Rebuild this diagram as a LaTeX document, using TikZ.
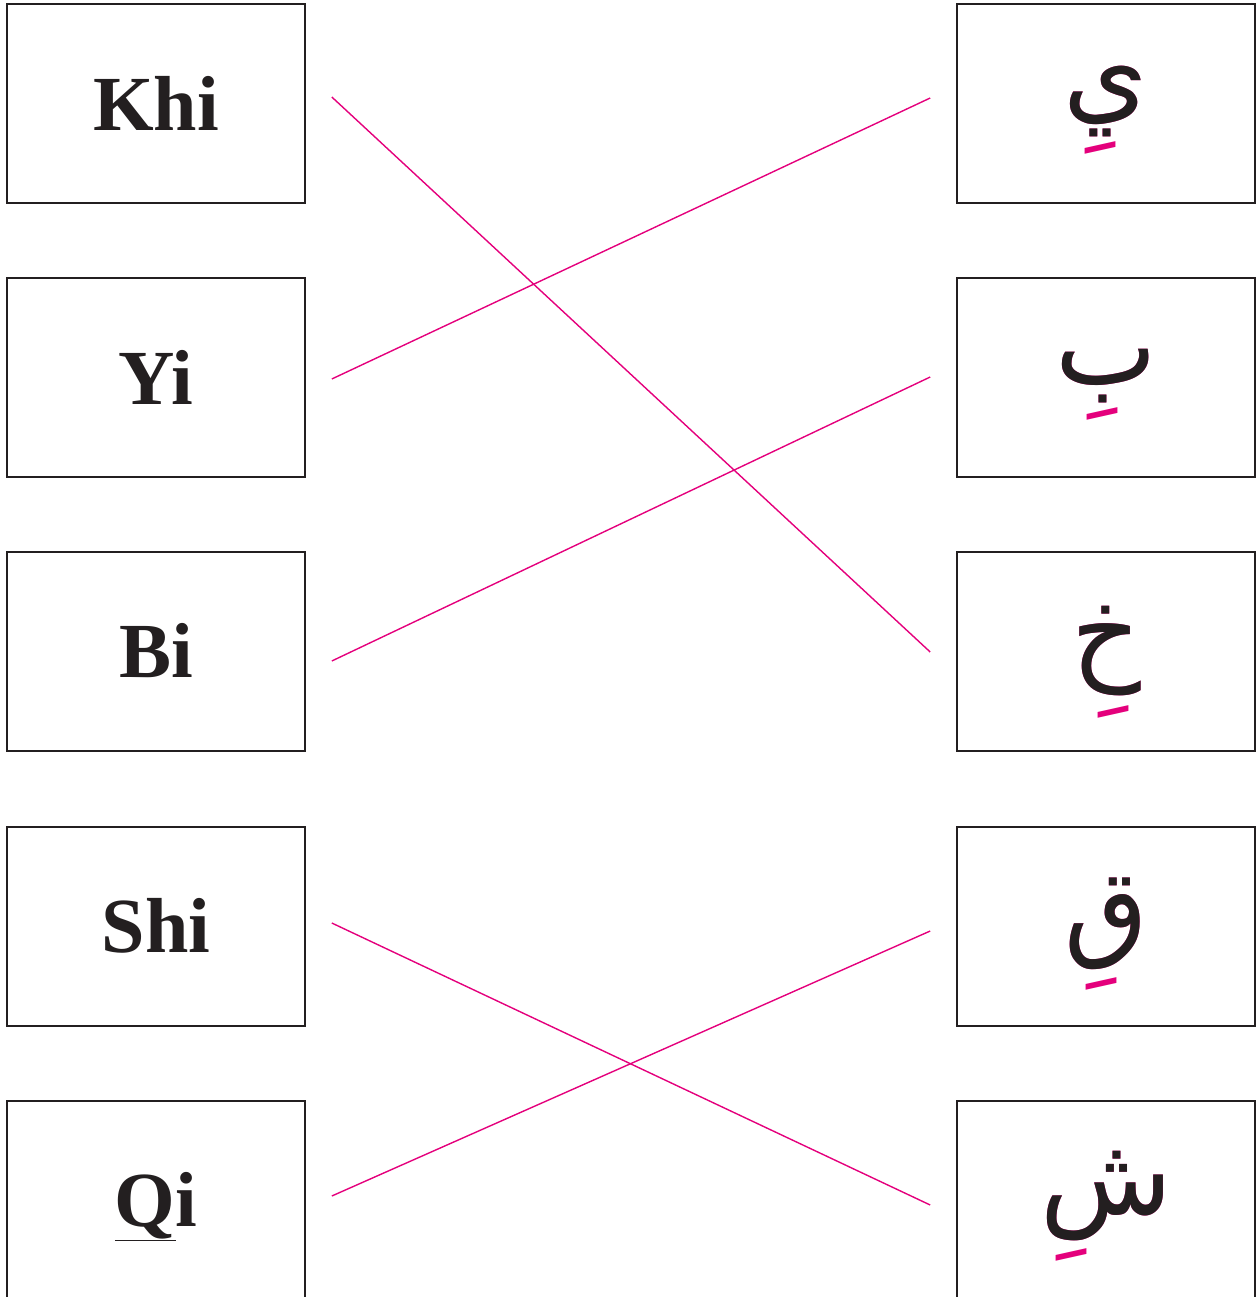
\documentclass[tikz,border=0pt]{standalone}
\usepackage{fontspec}
\setmainfont{Liberation Serif}
\newfontfamily\arabicfont[Script=Arabic]{DejaVu Sans}
\TeXXeTstate=1
\definecolor{linkpink}{RGB}{228,0,124}
\definecolor{boxgray}{RGB}{35,31,32}
\tikzset{
  box/.style={draw=boxgray, line width=1.6pt, minimum width=298pt, minimum height=199pt, inner sep=0pt},
  latin/.style={font=\fontsize{78}{80}\selectfont\bfseries, text=boxgray, inner sep=0pt},
  arabfull/.style={font=\fontsize{108}{110}\selectfont\arabicfont, text=linkpink, inner sep=0pt},
  arabbase/.style={font=\fontsize{108}{110}\selectfont\arabicfont, text=boxgray, inner sep=0pt, anchor=base},
  link/.style={draw=linkpink, line width=1.4pt}
}
\begin{document}
\begin{tikzpicture}[x=1pt,y=-1pt]
\useasboundingbox (0,0) rectangle (1257,1297);
\clip (0,0) rectangle (1257,1297);
% left boxes
\node[box] (bKhi) at (156,103.5) {};
\node[box] (bYi)  at (156,377.5) {};
\node[box] (bBi)  at (156,651.5) {};
\node[box] (bShi) at (156,926.5) {};
\node[box] (bQi)  at (156,1200.5) {};
% right boxes
\node[box] (bYa)  at (1106,103.5) {};
\node[box] (bBa)  at (1106,377.5) {};
\node[box] (bKha) at (1106,651.5) {};
\node[box] (bQaf) at (1106,926.5) {};
\node[box] (bShin) at (1106,1200.5) {};
% latin labels
\node[latin] (tKhi) at (156,103) {Khi};
\node[latin] (tYi)  at (156,377) {Yi};
\node[latin] (tBi)  at (156,651) {Bi};
\node[latin] (tShi) at (156,926) {Shi};
\node[latin, anchor=base] (tQi) at (156,1226) {\underline{Q}i};
% arabic labels: full letter with kasra in pink, base letter in black on top
\node[arabfull] (aYa) at (1106,110) {\beginR يِ\endR};
\node[arabbase] (aYa2) at (aYa.base) {\beginR ي\endR};
\node[arabfull] (aBa) at (1106,384.5) {\beginR بِ\endR};
\node[arabbase] (aBa2) at (aBa.base) {\beginR ب\endR};
\node[arabfull] (aKha) at (1106,662) {\beginR خِ\endR};
\node[arabbase] (aKha2) at (aKha.base) {\beginR خ\endR};
\node[arabfull] (aQaf) at (1106,934.5) {\beginR قِ\endR};
\node[arabbase] (aQaf2) at (aQaf.base) {\beginR ق\endR};
\node[arabfull] (aShin) at (1106,1206.5) {\beginR شِ\endR};
\node[arabbase] (aShin2) at (aShin.base) {\beginR ش\endR};
% connector end points
\coordinate (pKhi) at ([xshift=26pt,yshift=6.5pt]bKhi.east);
\coordinate (pYi)  at ([xshift=26pt,yshift=-1.5pt]bYi.east);
\coordinate (pBi)  at ([xshift=26pt,yshift=-9.5pt]bBi.east);
\coordinate (pShi) at ([xshift=26pt,yshift=3.5pt]bShi.east);
\coordinate (pQi)  at ([xshift=26pt,yshift=4.5pt]bQi.east);
\coordinate (pYa)  at ([xshift=-26pt,yshift=5.5pt]bYa.west);
\coordinate (pBa)  at ([xshift=-26pt,yshift=0.5pt]bBa.west);
\coordinate (pKha) at ([xshift=-26pt,yshift=-0.5pt]bKha.west);
\coordinate (pQaf) at ([xshift=-26pt,yshift=-4.5pt]bQaf.west);
\coordinate (pShin) at ([xshift=-26pt,yshift=-4.5pt]bShin.west);
\draw[link] (pKhi) -- (pKha);
\draw[link] (pYi) -- (pYa);
\draw[link] (pBi) -- (pBa);
\draw[link] (pShi) -- (pShin);
\draw[link] (pQi) -- (pQaf);
\end{tikzpicture}
\end{document}
